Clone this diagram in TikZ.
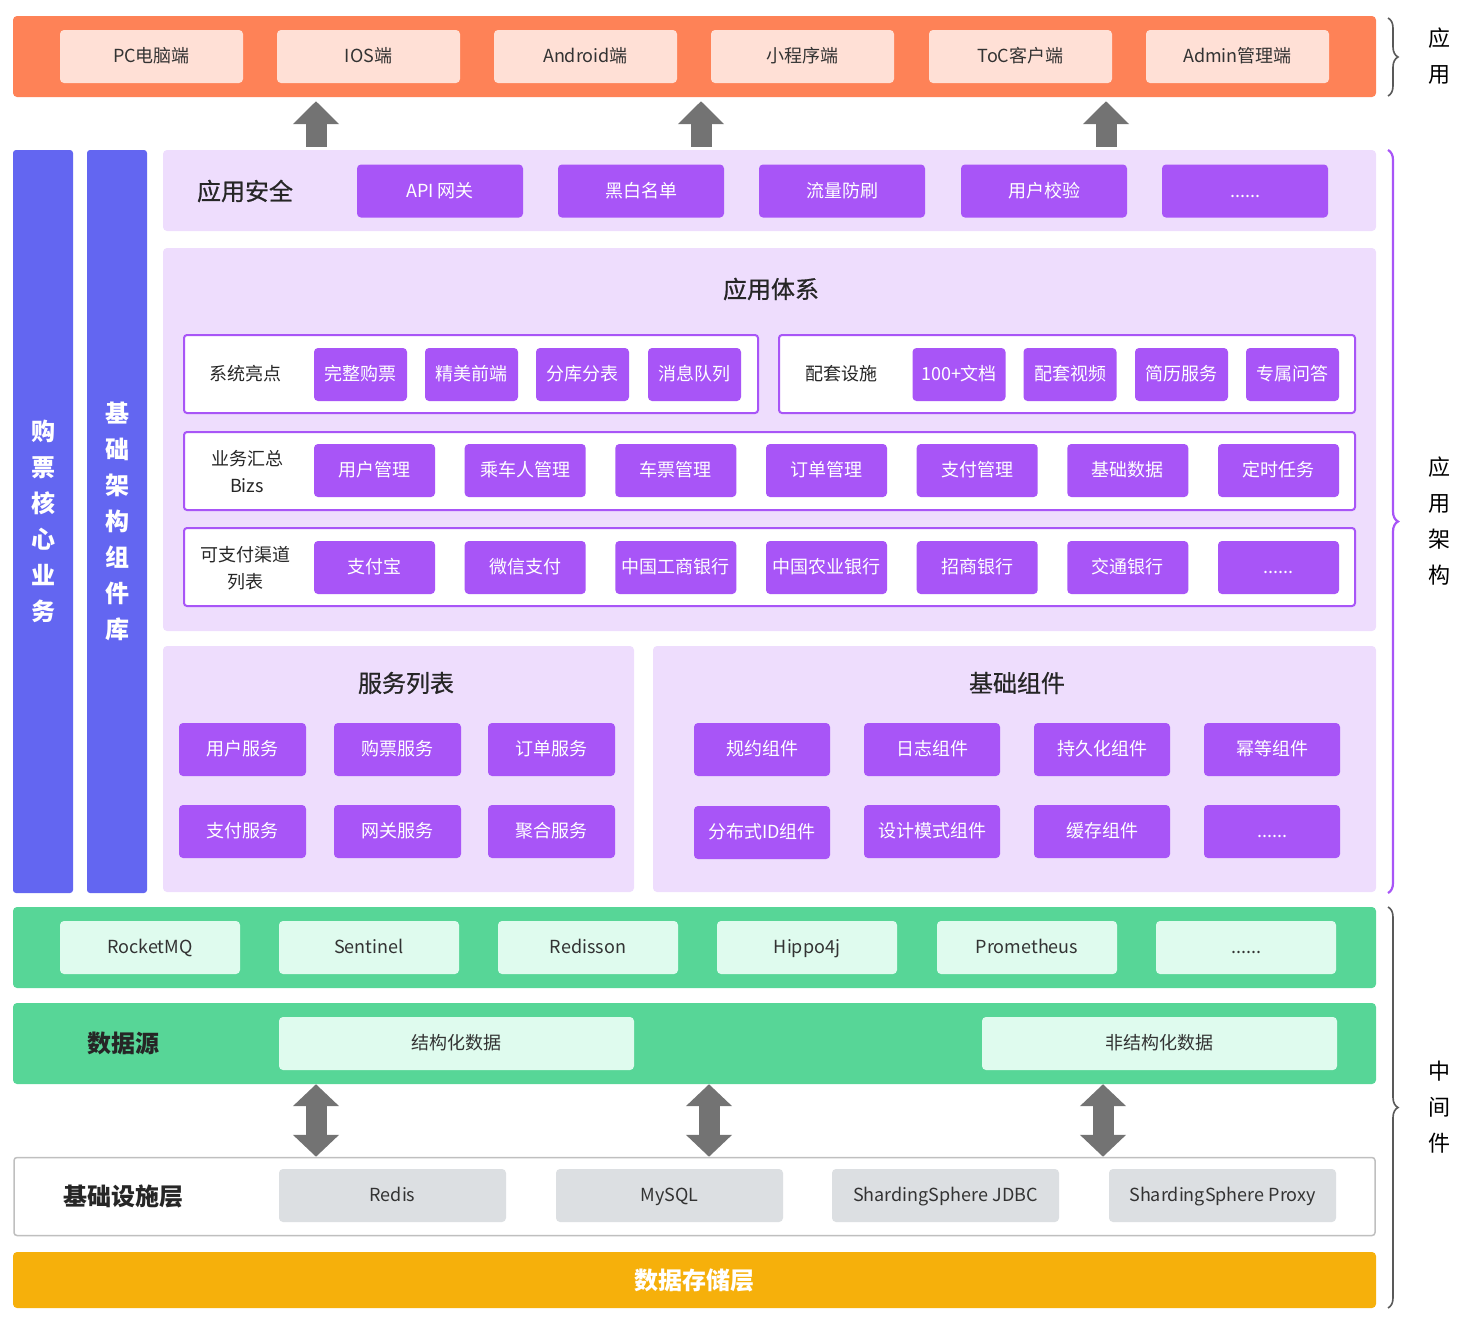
\documentclass[tikz,border=0pt]{standalone}
\usepackage{fontspec}
\setmainfont{Noto Sans CJK SC}
\newfontfamily\titlefont{Noto Sans CJK SC}[FakeBold=0.7]
\usetikzlibrary{arrows.meta,decorations.pathreplacing}

\definecolor{appbar}{HTML}{FE8257}
\definecolor{appcell}{HTML}{FFE0D6}
\definecolor{colblue}{HTML}{6366F1}
\definecolor{purp}{HTML}{A855F7}
\definecolor{lav}{HTML}{EEDDFD}
\definecolor{grn}{HTML}{57D697}
\definecolor{grncell}{HTML}{DFFBEE}
\definecolor{graycell}{HTML}{DCDFE2}
\definecolor{amber}{HTML}{F6B00B}
\definecolor{arrgray}{HTML}{737373}
\definecolor{txt}{HTML}{333333}

\tikzset{
  panel/.style={fill=#1, rounded corners=4pt, inner sep=0pt},
  cell/.style={fill=#1, rounded corners=4pt, inner sep=0pt, minimum height=53pt,
    text height=15pt, text depth=2.5pt, font=\fontsize{18}{22}\selectfont},
  pbox/.style={cell=purp, text=white, minimum width=#1},
  rowbox/.style={fill=white, draw=purp, line width=2pt, rounded corners=3pt, minimum height=78pt},
  title/.style={font=\fontsize{24}{28}\selectfont\titlefont, text=black!85},
  bigtitle/.style={font=\fontsize{24}{28}\selectfont\bfseries, text=black!85},
  rowlabel/.style={font=\fontsize{18}{27}\selectfont, align=center, text=black!85},
  vcol/.style={fill=colblue, rounded corners=3pt, minimum width=60pt, minimum height=743pt,
    text=white, align=center, font=\fontsize{24}{36}\selectfont\bfseries},
  sidelabel/.style={font=\fontsize{22}{36}\selectfont, align=center, text=black},
  blockarr/.style={draw=arrgray, line width=21pt, -{Triangle[width=45pt,length=23pt]}},
  dblarr/.style={draw=arrgray, line width=21pt, {Triangle[width=45pt,length=22pt]}-{Triangle[width=45pt,length=22pt]}},
  sidebrace/.style={decorate, decoration={brace, amplitude=10pt}, line width=1.6pt}
}

\begin{document}
\begin{tikzpicture}[x=1pt, y=-1pt]
\useasboundingbox (0,0) rectangle (1462,1326);

% application layer
\node[panel=appbar, minimum width=1363pt, minimum height=81pt] (app) at (694.5,56.5) {};
\node[cell=appcell, minimum width=183pt, text=txt] (pc) at (151.5,56.5) {PC电脑端};
\node[cell=appcell, minimum width=183pt, text=txt] (ios) at (368.5,56.5) {IOS端};
\node[cell=appcell, minimum width=183pt, text=txt] (android) at (585.5,56.5) {Android端};
\node[cell=appcell, minimum width=183pt, text=txt] (mini) at (802.5,56.5) {小程序端};
\node[cell=appcell, minimum width=183pt, text=txt] (toc) at (1020.5,56.5) {ToC客户端};
\node[cell=appcell, minimum width=183pt, text=txt] (admin) at (1237.5,56.5) {Admin管理端};

% side columns
\node[vcol] (core) at (43,521.5) {购\\票\\核\\心\\业\\务};
\node[vcol] (base) at (117,521.5) {基\\础\\架\\构\\组\\件\\库};

% security
\node[panel=lav, minimum width=1213pt, minimum height=81pt] (sec) at (769.5,190.5) {};
\node[title] (sect) at (245,191) {应用安全};
\node[pbox=166pt] (gw) at (440,191) {API 网关};
\node[pbox=166pt] (bwlist) at (641,191) {黑白名单};
\node[pbox=166pt] (flow) at (842,191) {流量防刷};
\node[pbox=166pt] (ucheck) at (1044,191) {用户校验};
\node[pbox=166pt] (secmore) at (1245,191) {......};

\coordinate (a1) at (316,0);
\coordinate (a2) at (701,0);
\coordinate (a3) at (1106,0);
\draw[blockarr, shorten <=3pt, shorten >=4pt] (sec.north -| a1) -- (app.south -| a1);
\draw[blockarr, shorten <=3pt, shorten >=4pt] (sec.north -| a2) -- (app.south -| a2);
\draw[blockarr, shorten <=3pt, shorten >=4pt] (sec.north -| a3) -- (app.south -| a3);

% application system
\node[panel=lav, minimum width=1213pt, minimum height=383pt] (sys) at (769.5,439.5) {};
\node[title] (syst) at (771,289) {应用体系};

\node[rowbox, minimum width=574pt] (hl) at (471,374) {};
\node[rowlabel] (hlt) at (245,374) {系统亮点};
\node[pbox=93pt] (hl1) at (360.5,374.5) {完整购票};
\node[pbox=93pt] (hl2) at (471.5,374.5) {精美前端};
\node[pbox=93pt] (hl3) at (582.5,374.5) {分库分表};
\node[pbox=93pt] (hl4) at (694.5,374.5) {消息队列};

\node[rowbox, minimum width=576pt] (fac) at (1067,374) {};
\node[rowlabel] (fact) at (841,374) {配套设施};
\node[pbox=93pt] (fac1) at (959,374.5) {100+文档};
\node[pbox=93pt] (fac2) at (1070,374.5) {配套视频};
\node[pbox=93pt] (fac3) at (1181.5,374.5) {简历服务};
\node[pbox=93pt] (fac4) at (1292.5,374.5) {专属问答};

\node[rowbox, minimum width=1171pt] (biz) at (769.5,471) {};
\node[rowlabel] (bizt) at (247,471.5) {业务汇总\\Bizs};
\node[pbox=121pt] (biz1) at (374.5,470.5) {用户管理};
\node[pbox=121pt] (biz2) at (525.2,470.5) {乘车人管理};
\node[pbox=121pt] (biz3) at (675.8,470.5) {车票管理};
\node[pbox=121pt] (biz4) at (826.5,470.5) {订单管理};
\node[pbox=121pt] (biz5) at (977.2,470.5) {支付管理};
\node[pbox=121pt] (biz6) at (1127.8,470.5) {基础数据};
\node[pbox=121pt] (biz7) at (1278.5,470.5) {定时任务};

\node[rowbox, minimum width=1171pt] (pay) at (769.5,567) {};
\node[rowlabel] (payt) at (245,568) {可支付渠道\\列表};
\node[pbox=121pt] (pay1) at (374.5,567.5) {支付宝};
\node[pbox=121pt] (pay2) at (525.2,567.5) {微信支付};
\node[pbox=121pt] (pay3) at (675.8,567.5) {中国工商银行};
\node[pbox=121pt] (pay4) at (826.5,567.5) {中国农业银行};
\node[pbox=121pt] (pay5) at (977.2,567.5) {招商银行};
\node[pbox=121pt] (pay6) at (1127.8,567.5) {交通银行};
\node[pbox=121pt] (pay7) at (1278.5,567.5) {......};

% services
\node[panel=lav, minimum width=471pt, minimum height=246pt] (svc) at (398.5,769) {};
\node[title] (svct) at (406,683) {服务列表};
\node[pbox=127pt] (svc1) at (242.5,749.5) {用户服务};
\node[pbox=127pt] (svc2) at (397.5,749.5) {购票服务};
\node[pbox=127pt] (svc3) at (551.5,749.5) {订单服务};
\node[pbox=127pt] (svc4) at (242.5,831.5) {支付服务};
\node[pbox=127pt] (svc5) at (397.5,831.5) {网关服务};
\node[pbox=127pt] (svc6) at (551.5,831.5) {聚合服务};

% base components
\node[panel=lav, minimum width=723pt, minimum height=246pt] (comp) at (1014.5,769) {};
\node[title] (compt) at (1017,683) {基础组件};
\node[pbox=136pt] (comp1) at (762,749.5) {规约组件};
\node[pbox=136pt] (comp2) at (932,749.5) {日志组件};
\node[pbox=136pt] (comp3) at (1102,749.5) {持久化组件};
\node[pbox=136pt] (comp4) at (1272,749.5) {幂等组件};
\node[pbox=136pt] (comp5) at (762,832.5) {分布式ID组件};
\node[pbox=136pt] (comp6) at (932,831.5) {设计模式组件};
\node[pbox=136pt] (comp7) at (1102,831.5) {缓存组件};
\node[pbox=136pt] (comp8) at (1272,831.5) {......};

% middleware
\node[panel=grn, minimum width=1363pt, minimum height=81pt] (mw) at (694.5,947.5) {};
\node[cell=grncell, minimum width=180pt, text=txt] (mw1) at (150,947.5) {RocketMQ};
\node[cell=grncell, minimum width=180pt, text=txt] (mw2) at (369,947.5) {Sentinel};
\node[cell=grncell, minimum width=180pt, text=txt] (mw3) at (588,947.5) {Redisson};
\node[cell=grncell, minimum width=180pt, text=txt] (mw4) at (807,947.5) {Hippo4j};
\node[cell=grncell, minimum width=180pt, text=txt] (mw5) at (1027,947.5) {Prometheus};
\node[cell=grncell, minimum width=180pt, text=txt] (mw6) at (1246,947.5) {......};

% data source
\node[panel=grn, minimum width=1363pt, minimum height=81pt] (ds) at (694.5,1043.5) {};
\node[bigtitle] (dst) at (123,1043) {数据源};
\node[cell=grncell, minimum width=355pt, text=txt] (ds1) at (456.5,1043.5) {结构化数据};
\node[cell=grncell, minimum width=355pt, text=txt] (ds2) at (1159.5,1043.5) {非结构化数据};

% infrastructure
\node[fill=white, draw=black!25, line width=1.5pt, rounded corners=3pt, minimum width=1361pt, minimum height=78pt] (infra) at (694.5,1196.5) {};
\node[bigtitle] (infrat) at (123,1196) {基础设施层};
\node[cell=graycell, minimum width=227pt, text=txt] (inf1) at (392.5,1195.5) {Redis};
\node[cell=graycell, minimum width=227pt, text=txt] (inf2) at (669.5,1195.5) {MySQL};
\node[cell=graycell, minimum width=227pt, text=txt] (inf3) at (945.5,1195.5) {ShardingSphere JDBC};
\node[cell=graycell, minimum width=227pt, text=txt] (inf4) at (1222.5,1195.5) {ShardingSphere Proxy};

\coordinate (d1) at (316,0);
\coordinate (d2) at (709,0);
\coordinate (d3) at (1103,0);
\draw[dblarr] (ds.south -| d1) -- (infra.north -| d1);
\draw[dblarr] (ds.south -| d2) -- (infra.north -| d2);
\draw[dblarr] (ds.south -| d3) -- (infra.north -| d3);

% storage
\node[panel=amber, minimum width=1363pt, minimum height=56pt, text=white, font=\fontsize{24}{28}\selectfont\bfseries] (store) at (694.5,1280) {数据存储层};

% braces
\coordinate (b1) at (1388,18);
\coordinate (b2) at (1388,96);
\coordinate (b3) at (1388,150);
\coordinate (b4) at (1388,893);
\coordinate (b5) at (1388,907);
\coordinate (b6) at (1388,1308);
\draw[sidebrace, draw=black!65] (b1) -- (b2);
\draw[sidebrace, draw=purp, line width=2.2pt] (b3) -- (b4);
\draw[sidebrace, draw=black!65] (b5) -- (b6);
\node[sidelabel] (lapp) at (1439,56) {应\\用};
\node[sidelabel] (larch) at (1439,521) {应\\用\\架\\构};
\node[sidelabel] (lmw) at (1439,1107) {中\\间\\件};
\end{tikzpicture}
\end{document}
